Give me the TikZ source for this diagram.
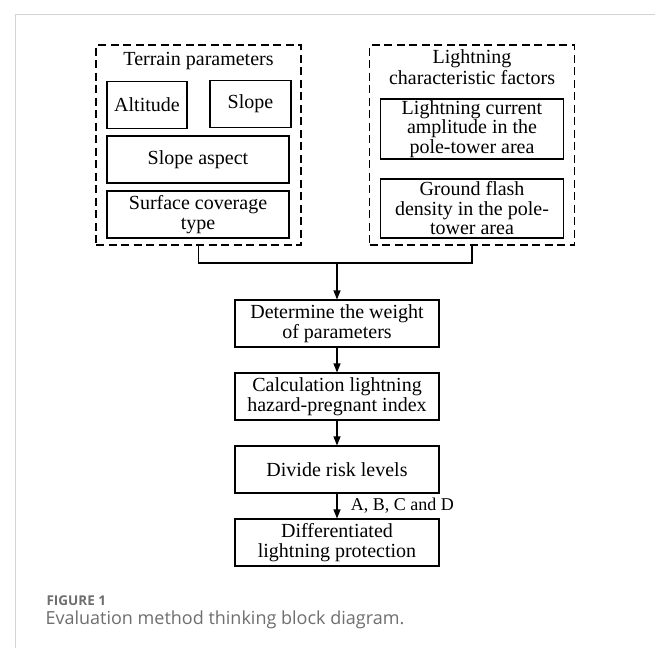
\documentclass[tikz,border=0pt]{standalone}
\usepackage{fontspec}
\setmainfont{Liberation Serif}
\newfontfamily\capfont{Open Sans}
\usetikzlibrary{arrows.meta,positioning}
\definecolor{framegray}{HTML}{D4D4D4}
\definecolor{capgray}{HTML}{6E6E6E}

\begin{document}
\begin{tikzpicture}
		[x=1pt,y=-1pt,line width=1.1pt,
		box/.style={draw,align=center,inner sep=0pt,minimum width=182pt,minimum height=47pt,font=\fontsize{20}{19.5}\selectfont},
		group/.style={draw,dash pattern=on 8pt off 4.5pt,minimum width=205pt,minimum height=200pt,inner sep=0pt},
		title/.style={align=center,inner sep=0pt,font=\fontsize{20}{21}\selectfont},
		flow/.style={-{Triangle[length=9pt,width=7pt]}}]
		\useasboundingbox (0,0) rectangle (655,648);
		
		% card frame
		\draw[framegray,line width=1pt] (655,14) -- (15,14) -- (15,648);
		
		% input groups
		\node[group] (terrain) at (198.5,145) {};
		\node[group] (light) at (472,145) {};
		\node[title] (terrainlabel) at (198.5,61) {Terrain parameters};
		\node[title] (lightlabel) at (472,67) {Lightning\\characteristic factors};
		
		\node[box,minimum width=80pt] (altitude) at (147,105) {Altitude};
		\node[box,minimum width=81pt] (slope) at (250.5,104) {Slope};
		\node[box] (aspect) at (198,159.5) {Slope aspect};
		\node[box] (cover) at (198,214.5) {Surface coverage\\type};
		
		\node[box,minimum width=183pt,minimum height=60pt] (current) at (472,129) {Lightning current\\amplitude in the\\pole-tower area};
		\node[box,minimum width=183pt,minimum height=59pt] (flash) at (472,208.5) {Ground flash\\density in the pole-\\tower area};
		
		% main flow
		\node[box,minimum width=204pt] (weight) at (337,323.5) {Determine the weight\\of parameters};
		\node[box,minimum width=204pt] (index) at (337,396.5) {Calculation lightning\\hazard-pregnant index};
		\node[box,minimum width=204pt] (levels) at (337,469.5) {Divide risk levels};
		\node[box,minimum width=204pt] (protect) at (337,542.5) {Differentiated\\lightning protection};
		
		\coordinate (join) at (337,263);
		\draw (terrain.south) |- (join) -| (light.south);
		\draw[flow] (join) to (weight);
		\draw[flow] (weight) to (index);
		\draw[flow] (index) to (levels);
		\draw[flow] (levels) to node [right,xshift=10pt,font=\fontsize{18}{18}\selectfont] {A, B, C and D} (protect);
		
		% caption
		\node[anchor=west,inner sep=0pt,text=capgray,font=\capfont\fontsize{13.5}{13.5}\selectfont\bfseries] (fig) at (46,601) {FIGURE 1};
		\node[anchor=west,inner sep=0pt,text=capgray,font=\capfont\fontsize{18}{18}\selectfont] (caption) at (45,620) {Evaluation method thinking block diagram.};
		\end{tikzpicture}
\end{document}
